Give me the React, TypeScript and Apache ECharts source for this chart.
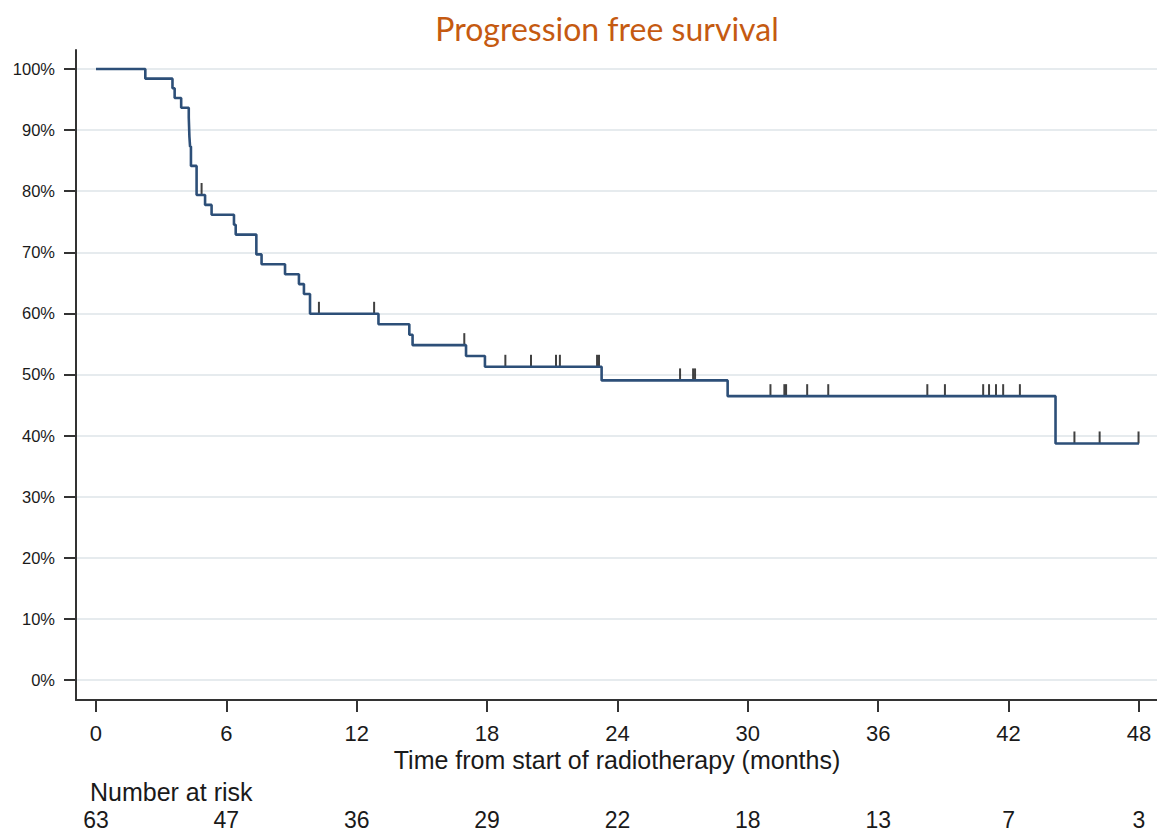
import React, { useEffect, useRef } from "react";
import * as echarts from "echarts";

const titleText = "Progression free survival";
const xAxisTitle = "Time from start of radiotherapy (months)";
const riskTitle = "Number at risk";
const monthTicks = [0, 6, 12, 18, 24, 30, 36, 42, 48];
const numberAtRisk = [63, 47, 36, 29, 22, 18, 13, 7, 3];
const percentTicks = [0, 10, 20, 30, 40, 50, 60, 70, 80, 90, 100];

// Kaplan-Meier step points: time (months) and survival level (%) after the step
const stepTimes = [0, 2.27, 3.52, 3.62, 3.92, 4.27, 4.3, 4.33, 4.37, 4.63, 5.02, 5.32, 6.35, 6.43, 7.38, 7.62, 8.7, 9.34, 9.57, 9.85, 13.0, 14.42, 14.57, 17.03, 17.9, 23.27, 29.07, 44.16, 48];
const survivalPct = [100, 98.41, 96.83, 95.24, 93.65, 92.06, 88.89, 87.3, 84.13, 79.37, 77.75, 76.13, 74.51, 72.89, 69.65, 68.03, 66.41, 64.79, 63.17, 59.93, 58.22, 56.51, 54.8, 53.03, 51.26, 49.03, 46.45, 38.71, 38.71];
// censoring times (months)
const censorTimes = [4.86, 10.26, 12.8, 16.95, 18.84, 20.02, 21.17, 21.35, 23.06, 23.15, 26.88, 27.48, 27.57, 31.04, 31.68, 31.76, 32.73, 33.7, 38.26, 39.07, 40.83, 41.1, 41.42, 41.75, 42.52, 45.03, 46.19, 47.98];

const X_MIN = -0.92;
const X_MAX = 48.83;
const Y_MIN = -3.27;
const Y_MAX = 103.1;

function levelAt(t: number): number {
  let lvl = survivalPct[0];
  for (let i = 0; i < stepTimes.length; i++) {
    if (stepTimes[i] <= t) lvl = survivalPct[i];
  }
  return lvl;
}

const FONT = "'Liberation Sans', Arial, sans-serif";

export default function App() {
  const ref = useRef<HTMLDivElement>(null);
  useEffect(() => {
    if (!ref.current) return;
    const chart = echarts.init(ref.current, undefined, { renderer: "svg" });
    const curve = stepTimes.map((t, i) => [t, survivalPct[i]]);
    const censors = censorTimes.map((t) => [t, levelAt(t)]);
    chart.setOption({
      animation: false,
      backgroundColor: "#ffffff",
      grid: { left: 76, top: 50, width: 1081, height: 650, containLabel: false },
      xAxis: [
        {
          type: "value",
          min: X_MIN,
          max: X_MAX,
          axisLine: { show: true, onZero: false, lineStyle: { color: "#333333", width: 2 } },
          axisTick: { show: true, length: 12, customValues: monthTicks, lineStyle: { color: "#333333", width: 2 } },
          axisLabel: { customValues: monthTicks, fontSize: 22, color: "#1a1a1a", margin: 22, fontFamily: FONT },
          splitLine: { show: false },
        },
        {
          type: "value",
          position: "bottom",
          offset: 98,
          min: X_MIN,
          max: X_MAX,
          axisLine: { show: false, onZero: false },
          axisTick: { show: false },
          axisLabel: {
            customValues: monthTicks,
            fontSize: 23,
            color: "#1a1a1a",
            margin: 10,
            fontFamily: FONT,
            formatter: (v: number) => {
              const idx = monthTicks.indexOf(v);
              return idx >= 0 ? String(numberAtRisk[idx]) : "";
            },
          },
          splitLine: { show: false },
        },
      ],
      yAxis: {
        type: "value",
        min: Y_MIN,
        max: Y_MAX,
        axisLine: { show: true, onZero: false, lineStyle: { color: "#333333", width: 2 } },
        axisTick: { show: true, length: 12, customValues: percentTicks, lineStyle: { color: "#333333", width: 2 } },
        axisLabel: {
          customValues: percentTicks,
          fontSize: 16.5,
          color: "#1a1a1a",
          margin: 21,
          fontFamily: FONT,
          formatter: (v: number) => `${v}%`,
        },
        splitLine: { show: false },
      },
      series: [
        {
          type: "scatter",
          z: 1,
          data: censors,
          symbol: "rect",
          symbolSize: [2, 12],
          symbolOffset: [0, -6],
          itemStyle: { color: "#111111" },
          silent: true,
          markLine: {
            z: 0,
            silent: true,
            symbol: ["none", "none"],
            label: { show: false },
            lineStyle: { color: "#e6ebee", width: 2, type: "solid" },
            data: percentTicks.map((v) => ({ yAxis: v })),
          },
        },
        {
          type: "line",
          z: 3,
          step: "end",
          data: curve,
          showSymbol: false,
          symbol: "none",
          lineStyle: { color: "#2d4f78", width: 2.6 },
          silent: true,
        },
      ],
      graphic: [
        {
          type: "text",
          x: 607,
          y: 28,
          style: {
            text: titleText,
            fill: "#C55A11",
            font: "32px Lato, 'Open Sans', sans-serif",
            textAlign: "center",
            textVerticalAlign: "middle",
          },
        },
        {
          type: "text",
          x: 617,
          y: 760,
          style: {
            text: xAxisTitle,
            fill: "#1a1a1a",
            font: `25px ${FONT}`,
            textAlign: "center",
            textVerticalAlign: "middle",
          },
        },
        {
          type: "text",
          x: 90,
          y: 792,
          style: {
            text: riskTitle,
            fill: "#1a1a1a",
            font: `25px ${FONT}`,
            textAlign: "left",
            textVerticalAlign: "middle",
          },
        },
      ],
    });
    return () => chart.dispose();
  }, []);
  return (
    <div
      ref={ref}
      style={{ position: "absolute", left: 0, top: 0, width: 1157, height: 834 }}
    />
  );
}
